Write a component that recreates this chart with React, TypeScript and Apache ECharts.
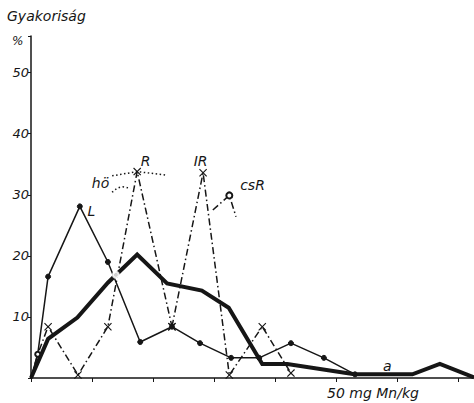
import React, { useEffect, useRef } from "react";
import * as echarts from "echarts";

// Mn content (mg/kg) vs. frequency (%)
const yTicks = [10, 20, 30, 40, 50];
const lPoints = [[0, 0], [1.1, 3.9], [2.8, 16.6], [8.0, 28.1], [12.6, 19.0], [17.9, 5.9], [23.1, 8.4], [27.7, 5.7], [32.8, 3.3], [37.4, 3.3], [42.6, 5.7], [48.0, 3.3], [53.1, 0.6]];
const aPoints = [[0, 0], [2.8, 6.4], [7.6, 9.9], [12.6, 15.6], [17.4, 20.2], [22.3, 15.5], [28.0, 14.3], [32.4, 11.5], [37.9, 2.3], [42.0, 2.3], [53.0, 0.6], [62.5, 0.6], [67.0, 2.3], [72.6, 0.1]];
const rPoints = [[0, 0], [1.1, 3.9], [2.8, 8.4], [7.7, 0.5], [12.6, 8.4], [17.4, 33.8], [23.1, 8.4]];
const irPoints = [[23.1, 8.4], [28.2, 33.6], [32.5, 0.5], [37.9, 8.4], [42.6, 0.8]];
const hoTop = [[13.3, 33.1], [17.4, 33.8], [22.3, 33.2]];
const hoLow = [[13.3, 30.4], [15.0, 31.3], [16.3, 31.0]];
const csRStub = [[29.8, 27.5], [32.5, 29.9], [33.6, 26.4]];
const csRPoints = [[13.9, 16.9]];
const seriesLabels = [
  { text: "L", coord: [9.9, 27.3] },
  { text: "R", coord: [18.8, 35.6] },
  { text: "IR", coord: [27.8, 35.6] },
  { text: "csR", coord: [36.3, 31.6] },
  { text: "hö", coord: [11.4, 31.9] },
  { text: "a", coord: [58.4, 1.9] },
];

const INK = "#161616";
const FONT = "'DejaVu Sans', 'Liberation Sans', sans-serif";
const XSYM = "path://M0,1L1,0L5,4L9,0L10,1L6,5L10,9L9,10L5,6L1,10L0,9L4,5Z";
const DASHDOT = [7, 3, 1.5, 3];

export default function App() {
  const ref = useRef<HTMLDivElement>(null);
  useEffect(() => {
    if (!ref.current) return;
    const chart = echarts.init(ref.current, null, { renderer: "svg" });
    const noSym = { symbol: "none" };
    chart.setOption({
      animation: false,
      backgroundColor: "#ffffff",
      grid: { left: 31, right: 0, top: 36, bottom: 25, containLabel: false },
      xAxis: {
        type: "value",
        min: 0,
        max: 72.6,
        interval: 10,
        axisLine: { show: true, lineStyle: { color: INK, width: 1.5 } },
        axisTick: { show: true, length: 4, lineStyle: { color: INK, width: 1 } },
        axisLabel: { show: false },
        splitLine: { show: false },
      },
      yAxis: {
        type: "value",
        min: 0,
        max: 56,
        interval: 10,
        axisLine: { show: true, lineStyle: { color: INK, width: 1.5 } },
        axisTick: { show: true, length: 3, lineStyle: { color: INK, width: 1 } },
        axisLabel: {
          show: true,
          margin: 2,
          color: INK,
          fontSize: 13,
          fontStyle: "italic",
          fontFamily: FONT,
          formatter: (v: number) => (yTicks.includes(v) ? String(v) : ""),
        },
        splitLine: { show: false },
      },
      series: [
        {
          name: "a",
          type: "line",
          data: aPoints,
          ...noSym,
          lineStyle: { color: INK, width: 4, join: "miter" },
          z: 3,
          markPoint: {
            symbol: "circle",
            symbolSize: 0,
            data: seriesLabels.map((l) => ({
              coord: l.coord,
              value: l.text,
              label: {
                show: true,
                position: "inside",
                formatter: l.text,
                color: INK,
                fontSize: 14,
                fontStyle: "italic",
                fontFamily: FONT,
              },
            })),
          },
        },
        {
          name: "L",
          type: "line",
          data: lPoints.map((p, i) => ({
            value: p,
            symbol: i === 0 ? "none" : i === 1 ? "emptyCircle" : "circle",
            symbolSize: 5,
          })),
          lineStyle: { color: INK, width: 1.5 },
          itemStyle: { color: INK, borderColor: INK, borderWidth: 1 },
          z: 4,
        },
        {
          name: "R",
          type: "line",
          data: rPoints.map((p, i) => ({ value: p, symbol: i < 2 ? "none" : XSYM, symbolSize: 8 })),
          lineStyle: { color: INK, width: 1.5, type: DASHDOT },
          itemStyle: { color: INK },
          z: 4,
        },
        {
          name: "IR",
          type: "line",
          data: irPoints.map((p) => ({ value: p, symbol: XSYM, symbolSize: 8 })),
          lineStyle: { color: INK, width: 1.5, type: DASHDOT },
          itemStyle: { color: INK },
          z: 4,
        },
        {
          name: "hö",
          type: "line",
          data: hoTop,
          ...noSym,
          lineStyle: { color: INK, width: 1.5, type: [1.5, 2.5] },
          z: 2,
        },
        {
          name: "hö2",
          type: "line",
          data: hoLow,
          ...noSym,
          smooth: true,
          lineStyle: { color: INK, width: 1.5, type: [1.5, 2.5] },
          z: 2,
        },
        {
          name: "csR",
          type: "line",
          data: csRStub.map((p, i) => ({ value: p, symbol: i === 1 ? "emptyCircle" : "none", symbolSize: 6 })),
          lineStyle: { color: INK, width: 1.5, type: DASHDOT },
          itemStyle: { color: INK, borderColor: INK, borderWidth: 1.2 },
          z: 4,
        },
        {
          name: "csR points",
          type: "scatter",
          data: csRPoints,
          symbol: "emptyCircle",
          symbolSize: 6,
          itemStyle: { color: "#fff", borderColor: INK, borderWidth: 1.2 },
          z: 5,
        },
      ],
      graphic: [
        {
          type: "text",
          left: 7,
          top: 9,
          style: { text: "Gyakoriság", fill: INK, font: `italic 14px ${FONT}` },
        },
        {
          type: "text",
          left: 12,
          top: 35,
          style: { text: "%", fill: INK, font: `italic 12px ${FONT}` },
        },
        {
          type: "text",
          left: 327,
          top: 386,
          style: { text: "50 mg Mn/kg", fill: INK, font: `italic 14px ${FONT}` },
        },
      ],
    });
    return () => chart.dispose();
  }, []);
  return (
    <div
      ref={ref}
      style={{ position: "absolute", left: 0, top: 0, width: 474, height: 403, background: "#fff" }}
    />
  );
}
